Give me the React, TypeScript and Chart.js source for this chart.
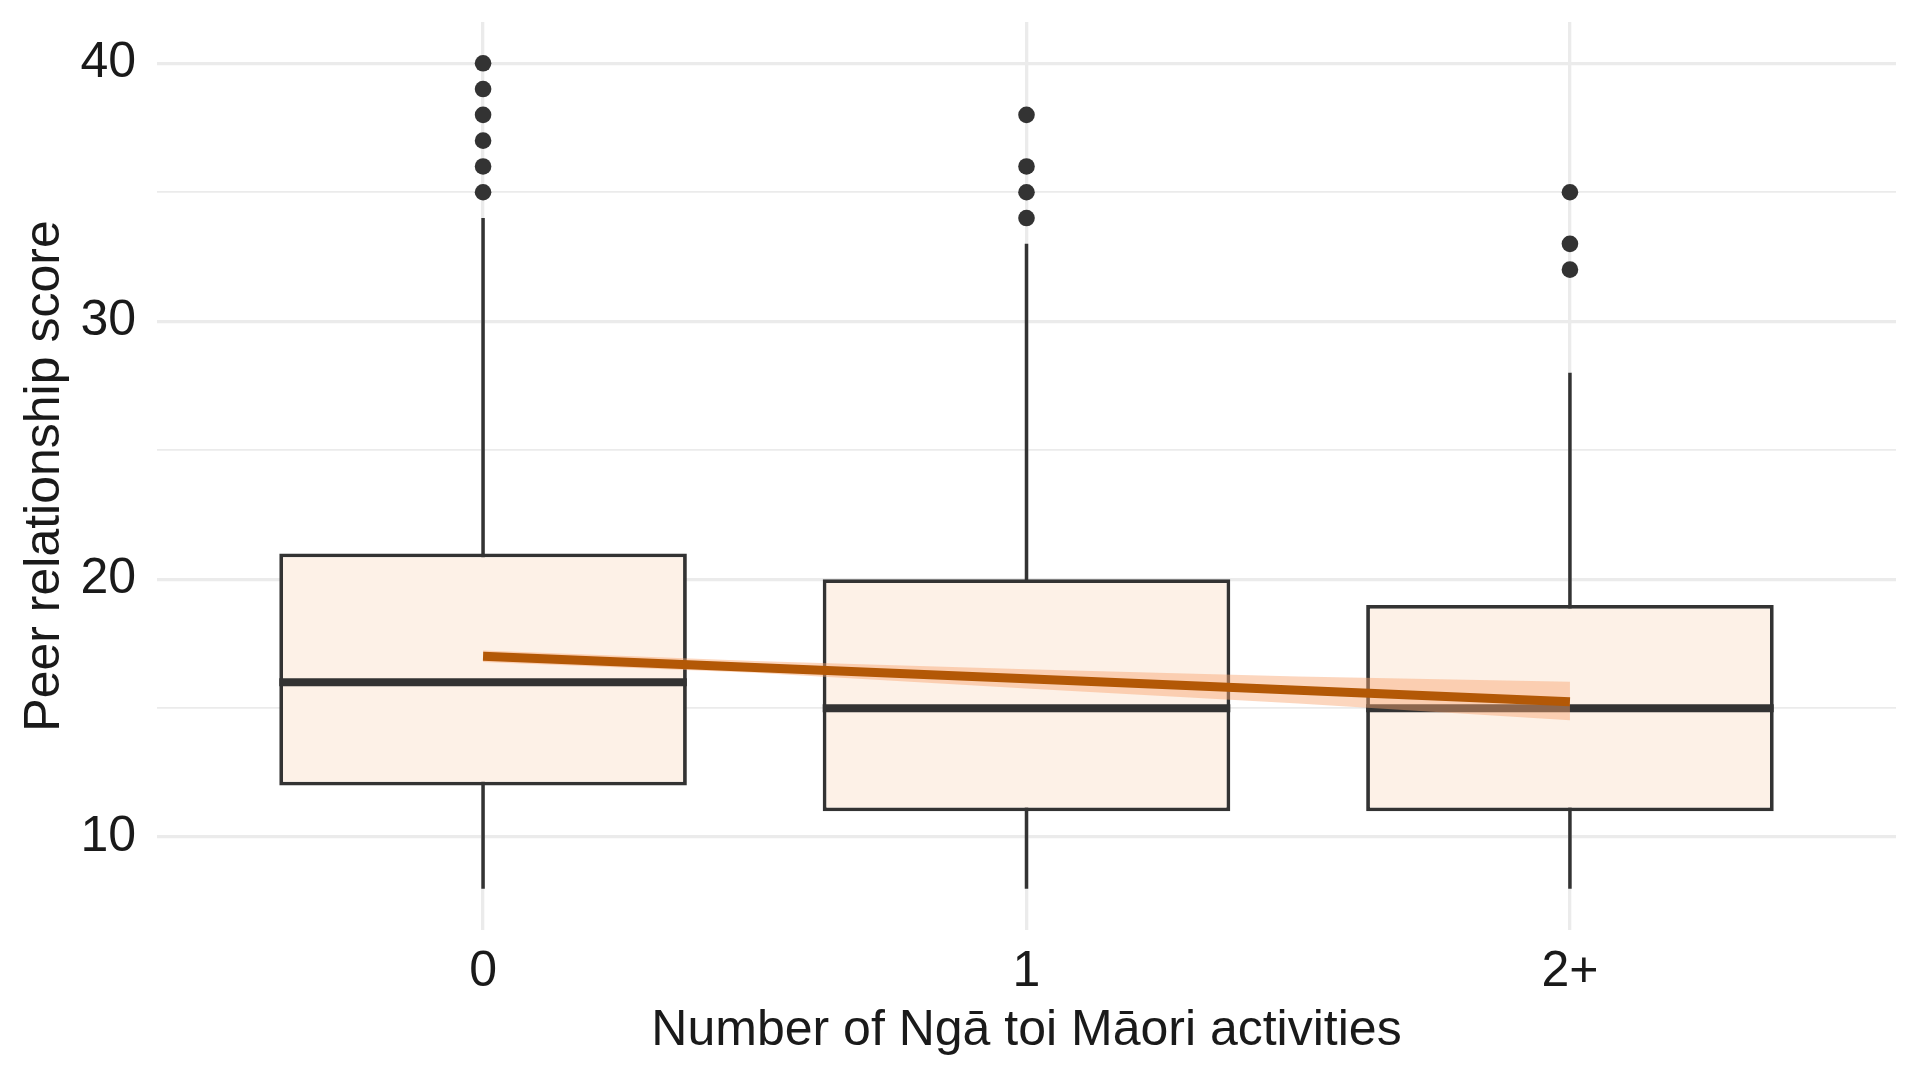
import React, { useEffect, useRef } from "react";
import { Chart, registerables } from "chart.js";

Chart.register(...registerables);

// ---- data ----
const categories = ["0", "1", "2+"];
const categoryPositions = [1, 2, 3];
const whiskerLow = [8, 8, 8];
const boxQ1 = [12, 11, 11];
const boxMedian = [16, 15, 15];
const boxQ3 = [21, 20, 19];
const whiskerHigh = [34, 33, 28];
const outlierValues = [
  [35, 36, 37, 38, 39, 40],
  [34, 35, 36, 38],
  [32, 33, 35],
];
const trendX = [1, 1.5, 2, 2.5, 3];
const trendFit = [17.01, 16.58, 16.14, 15.69, 15.25];
const trendLower = [16.79, 16.37, 15.76, 15.18, 14.53];
const trendUpper = [17.24, 16.83, 16.51, 16.23, 16.02];
const yMajorTicks = [10, 20, 30, 40];
const yMinorTicks = [15, 25, 35];

const FONT = "'Liberation Sans', Arial, Helvetica, sans-serif";
const DARK = "#333333";
const TEXT = "#1a1a1a";
const GRID = "#EBEBEB";
const BOX_HALF = 0.375;

export default function App() {
  const ref = useRef<HTMLCanvasElement | null>(null);

  useEffect(() => {
    if (!ref.current) return;

    const whiskerSets = categoryPositions.map((x, i) => ({
      type: "line" as const,
      data: [
        { x, y: whiskerLow[i] },
        { x, y: whiskerHigh[i] },
      ],
      borderColor: DARK,
      borderWidth: 3.5,
      pointRadius: 0,
      fill: false,
      order: 6,
    }));

    const medianSets = categoryPositions.map((x, i) => ({
      type: "line" as const,
      data: [
        { x: x - BOX_HALF, y: boxMedian[i] },
        { x: x + BOX_HALF, y: boxMedian[i] },
      ],
      borderColor: DARK,
      borderWidth: 8,
      borderCapStyle: "butt" as const,
      pointRadius: 0,
      fill: false,
      order: 4,
    }));

    const outlierPoints: { x: number; y: number }[] = [];
    outlierValues.forEach((vals, i) =>
      vals.forEach((v) => outlierPoints.push({ x: categoryPositions[i], y: v }))
    );

    const chart = new Chart(ref.current, {
      type: "bar",
      data: {
        datasets: [
          {
            type: "line",
            data: trendX.map((x, i) => ({ x, y: trendFit[i] })),
            borderColor: "#B35806",
            borderWidth: 9,
            borderCapStyle: "butt",
            pointRadius: 0,
            fill: false,
            order: 0,
          } as any,
          {
            type: "line",
            data: trendX.map((x, i) => ({ x, y: trendUpper[i] })),
            borderWidth: 0,
            borderColor: "rgba(0,0,0,0)",
            backgroundColor: "rgba(248,165,110,0.45)",
            pointRadius: 0,
            fill: "+1",
            order: 1,
          } as any,
          {
            type: "line",
            data: trendX.map((x, i) => ({ x, y: trendLower[i] })),
            borderWidth: 0,
            borderColor: "rgba(0,0,0,0)",
            pointRadius: 0,
            fill: false,
            order: 1,
          } as any,
          {
            type: "scatter",
            data: outlierPoints,
            backgroundColor: DARK,
            borderWidth: 0,
            pointRadius: 8.3,
            order: 2,
          } as any,
          ...medianSets,
          {
            type: "bar",
            data: categoryPositions.map((x, i) => ({ x, y: [boxQ1[i], boxQ3[i]] })),
            backgroundColor: "#FDF1E7",
            borderColor: DARK,
            borderWidth: 3.8,
            borderSkipped: false,
            categoryPercentage: 1,
            barPercentage: 0.75,
            order: 5,
          } as any,
          ...whiskerSets,
        ],
      },
      options: {
        responsive: false,
        animation: false,
        events: [],
        layout: { padding: { top: 22, right: 24, left: 0, bottom: 0 } },
        plugins: {
          legend: { display: false },
          tooltip: { enabled: false },
        },
        scales: {
          x: {
            type: "linear",
            min: 0.4,
            max: 3.6,
            offset: false,
            afterBuildTicks: (scale: any) => {
              scale.ticks = categoryPositions.map((v) => ({ value: v }));
            },
            afterFit: (scale: any) => {
              scale.height = 150;
              scale.paddingLeft = 0;
              scale.paddingRight = 0;
            },
            ticks: {
              callback: (v: any) => {
                const idx = categoryPositions.indexOf(Number(v));
                return idx >= 0 ? categories[idx] : "";
              },
              font: { family: FONT, size: 50 },
              color: TEXT,
              padding: 12,
              maxRotation: 0,
              autoSkip: false,
            },
            grid: {
              color: GRID,
              lineWidth: 3.3,
              drawTicks: false,
              offset: false,
            },
            border: { display: false },
            title: {
              display: true,
              text: "Number of Ngā toi Māori activities",
              font: { family: FONT, size: 50 },
              color: TEXT,
              padding: { top: 0, bottom: 19 },
            },
          },
          y: {
            type: "linear",
            min: 6.4,
            max: 41.6,
            afterBuildTicks: (scale: any) => {
              scale.ticks = [...yMajorTicks, ...yMinorTicks]
                .sort((a, b) => a - b)
                .map((v) => ({ value: v }));
            },
            afterFit: (scale: any) => {
              scale.width = 157;
              scale.paddingTop = 0;
              scale.paddingBottom = 0;
            },
            ticks: {
              callback: (v: any) => (yMajorTicks.includes(Number(v)) ? String(v) : ""),
              font: { family: FONT, size: 50 },
              color: TEXT,
              padding: 21,
              autoSkip: false,
            },
            grid: {
              color: GRID,
              lineWidth: (ctx: any) =>
                ctx.tick && yMajorTicks.includes(ctx.tick.value) ? 3.3 : 1.8,
              drawTicks: false,
            },
            border: { display: false },
            title: {
              display: true,
              text: "Peer relationship score",
              font: { family: FONT, size: 50 },
              color: TEXT,
              padding: { top: 15, bottom: 0 },
            },
          },
        },
      } as any,
    });

    return () => chart.destroy();
  }, []);

  return (
    <div
      style={{
        position: "fixed",
        left: 0,
        top: 0,
        width: 1920,
        height: 1080,
        background: "#ffffff",
      }}
    >
      <canvas ref={ref} width={1920} height={1080} />
    </div>
  );
}
